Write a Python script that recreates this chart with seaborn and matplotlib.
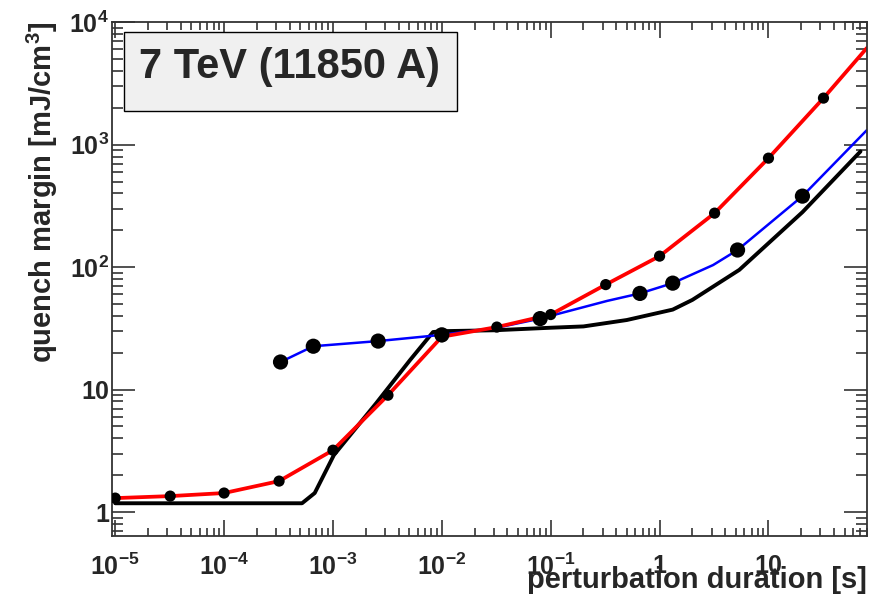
import matplotlib
matplotlib.use("Agg")
import matplotlib.pyplot as plt
import seaborn as sns
from matplotlib.patches import Rectangle
from matplotlib.ticker import FixedLocator, FixedFormatter, LogLocator, NullFormatter

# ---------------------- DATA ----------------------
# red curve (small markers)
red_x = [1e-5, 3.2e-5, 1e-4, 3.2e-4, 1e-3, 3.2e-3, 1e-2, 3.2e-2, 0.1, 0.32, 1, 3.2, 10, 32]
red_y = [1.30, 1.35, 1.43, 1.79, 3.2, 9.0, 27, 32.4, 41, 72, 123, 276, 776, 2400]
red_line_x = red_x + [80]
red_line_y = red_y + [6150]

# blue curve (big markers)
blue_x = [3.3e-4, 6.6e-4, 2.6e-3, 1e-2, 8e-2, 0.66, 1.32, 5.2, 20.5]
blue_y = [16.8, 22.6, 24.9, 28, 38, 61, 74, 138, 380]
blue_line_x = [3.3e-4, 6.6e-4, 2.6e-3, 1e-2, 3.2e-2, 8e-2, 0.33, 0.66, 1.32, 3.1, 5.2, 20.5, 80]
blue_line_y = [16.8, 22.6, 24.9, 28, 32, 38, 53, 61, 74, 104, 138, 380, 1313]

# black curve (no markers)
black_x = [1e-5, 5.2e-4, 6.8e-4, 1.02e-3, 2.5e-3, 5.1e-3, 8.3e-3, 1e-2, 3e-2, 0.1, 0.2,
           0.5, 1.32, 2.0, 5.4, 20.5, 70]
black_y = [1.18, 1.18, 1.43, 2.92, 7.76, 17.4, 29.5, 30, 30.5, 32, 32.8,
           37, 45, 54, 95, 281, 880]

xtick_vals = [1e-5, 1e-4, 1e-3, 1e-2, 1e-1, 1, 10]
xtick_labels = [r'$\mathbf{10^{-5}}$', r'$\mathbf{10^{-4}}$', r'$\mathbf{10^{-3}}$',
                r'$\mathbf{10^{-2}}$', r'$\mathbf{10^{-1}}$', '1', '10']
ytick_vals = [1, 10, 100, 1000, 10000]
ytick_labels = ['1', '10', r'$\mathbf{10^{2}}$', r'$\mathbf{10^{3}}$', r'$\mathbf{10^{4}}$']

# ---------------------- STYLE ----------------------
sns.set_style("ticks")
plt.rcParams['font.family'] = ['Liberation Sans', 'DejaVu Sans']
plt.rcParams['font.weight'] = 'bold'
plt.rcParams['mathtext.fontset'] = 'custom'
plt.rcParams['mathtext.bf'] = 'Liberation Sans:bold'
plt.rcParams['mathtext.rm'] = 'Liberation Sans:bold'

fig = plt.figure(figsize=(8.8, 6), dpi=100)
ax = fig.add_axes([0.127, 0.107, 0.858, 0.856])

# ---------------------- PLOT ----------------------
sns.lineplot(x=black_x, y=black_y, color='black', linewidth=2.8, sort=False, ax=ax)
sns.lineplot(x=blue_line_x, y=blue_line_y, color='#0000ff', linewidth=1.8, sort=False, ax=ax)
sns.lineplot(x=red_line_x, y=red_line_y, color='#ff0000', linewidth=2.7, sort=False, ax=ax)
sns.scatterplot(x=blue_x, y=blue_y, color='black', s=120, edgecolor='none', ax=ax, zorder=5)
sns.scatterplot(x=red_x, y=red_y, color='black', s=65, edgecolor='none', ax=ax, zorder=5)

ax.set_xscale('log')
ax.set_yscale('log')
ax.set_xlim(9.3e-6, 80)
ax.set_ylim(0.64, 1e4)

ax.xaxis.set_major_locator(FixedLocator(xtick_vals))
ax.xaxis.set_major_formatter(FixedFormatter(xtick_labels))
ax.yaxis.set_major_locator(FixedLocator(ytick_vals))
ax.yaxis.set_major_formatter(FixedFormatter(ytick_labels))
ax.xaxis.set_minor_locator(LogLocator(base=10, subs=range(2, 10), numticks=20))
ax.yaxis.set_minor_locator(LogLocator(base=10, subs=range(2, 10), numticks=20))
ax.xaxis.set_minor_formatter(NullFormatter())
ax.yaxis.set_minor_formatter(NullFormatter())

ax.tick_params(which='both', direction='in', top=True, right=True, color='#333333', width=1.2)
ax.tick_params(axis='x', which='major', length=11.5, pad=13, labelsize=18)
ax.tick_params(axis='x', which='minor', length=5.5)
ax.tick_params(axis='y', which='major', length=16.5, pad=2, labelsize=18)
ax.tick_params(axis='y', which='minor', length=8)
for sp in ax.spines.values():
    sp.set_linewidth(1.3)
    sp.set_color('#333333')

ax.set_xlabel('perturbation duration [s]', fontsize=21, fontweight='bold', ha='right')
ax.xaxis.set_label_coords(1.0, -0.058)
ax.set_ylabel(r'quench margin [mJ/cm$^{\mathbf{3}}$]', fontsize=21, fontweight='bold', ha='right')
ax.yaxis.set_label_coords(-0.068, 1.0)

# title box
ax.add_patch(Rectangle((0.016, 0.827), 0.441, 0.153, transform=ax.transAxes,
                       facecolor='#f0f0f0', edgecolor='black', linewidth=1.0, zorder=6))
ax.text(0.236, 0.913, '7 TeV (11850 A)', transform=ax.transAxes, ha='center', va='center',
        fontsize=30, fontweight='bold', zorder=7)

plt.savefig("out.png", dpi=100)
plt.close()
